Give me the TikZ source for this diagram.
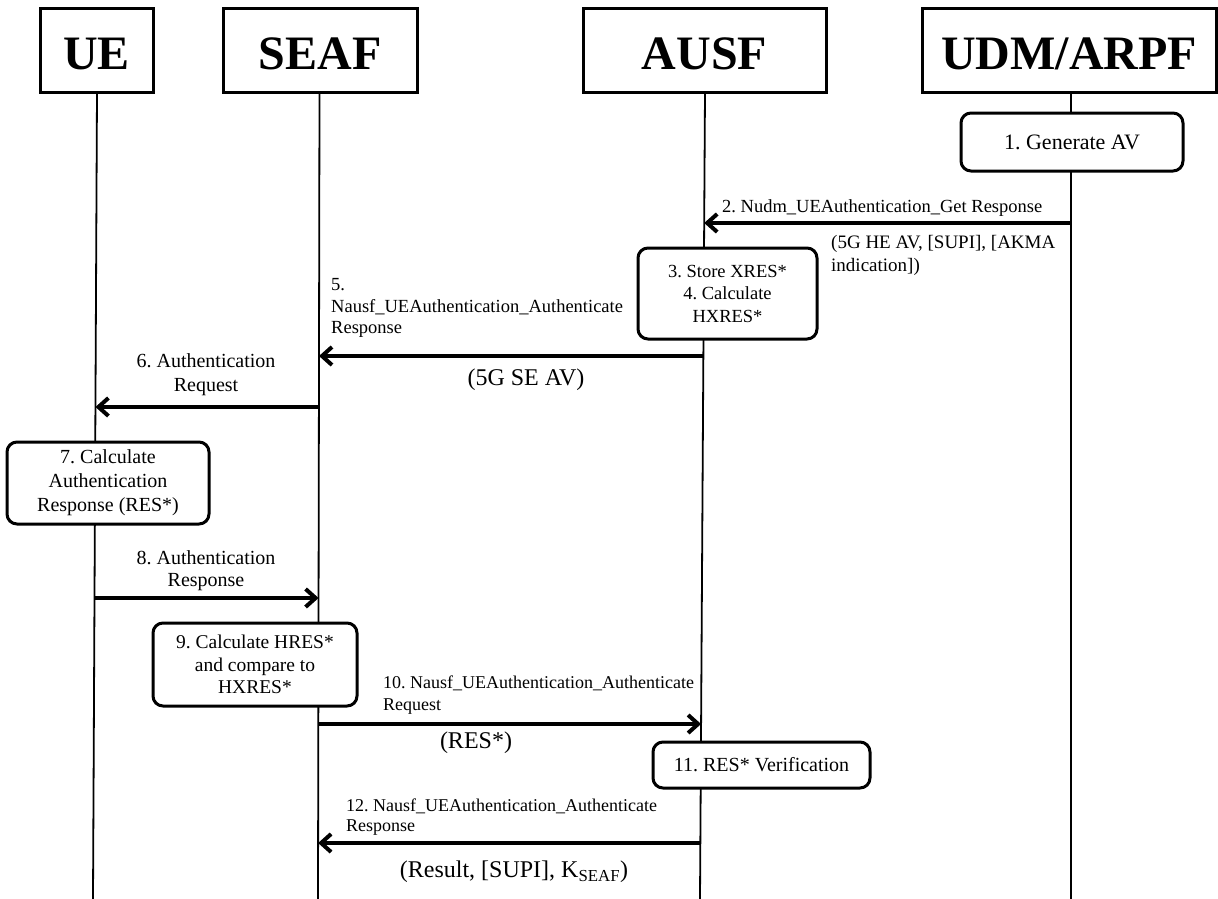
\documentclass[tikz,border=0pt]{standalone}
\usepackage{fontspec}
\setmainfont{Liberation Serif}
\usetikzlibrary{arrows.meta,calc}
\frenchspacing
\begin{document}
\begin{tikzpicture}[x=1pt,y=-1pt,
  hdr/.style={draw, line width=3pt, inner sep=0pt,
    font=\fontsize{48}{52}\selectfont\bfseries,
    text height=39pt, text depth=0pt, minimum height=83pt},
  life/.style={line width=1.8pt},
  msg/.style={line width=4pt, -{Straight Barb[length=10pt,width=18pt]}},
  actbox/.style={draw, line width=3pt, rounded corners=10pt, fill=white,
    align=center, inner sep=0pt},
  lbl/.style={inner sep=0pt},
]
\useasboundingbox (0,0) rectangle (1218,899);

% participants
\node[hdr, minimum width=113pt] (ue)   at (96.5,50.5) {UE};
\node[hdr, minimum width=194pt] (seaf) at (320,50.5)  {SEAF};
\node[hdr, minimum width=243pt] (ausf) at (704.5,50.5){AUSF};
\node[hdr, minimum width=294pt] (udm)  at (1069,50.5) {UDM/ARPF};

% lifelines
\coordinate (ueT)   at (97,92);   \coordinate (ueB)   at (93,899);
\coordinate (seafT) at (319.5,92);\coordinate (seafB) at (318,899);
\coordinate (ausfT) at (705,92);  \coordinate (ausfB) at (700,899);
\coordinate (udmT)  at (1071,92); \coordinate (udmB)  at (1071,899);
\foreach \p in {ue,seaf,ausf,udm}{\draw[life] (\p T) -- (\p B);}

% message end points on the lifelines
\foreach \n/\a/\b/\y in {m2/udm/ausf/223, m5/ausf/seaf/356, m6/seaf/ue/407,
    m8/ue/seaf/598, m10/seaf/ausf/724, m12/ausf/seaf/843}{
  \coordinate (\n s) at ($(\a T)!{(\y-92)/807}!(\a B)$);
  \coordinate (\n e) at ($(\b T)!{(\y-92)/807}!(\b B)$);
}

% messages
\foreach \n in {m2,m5,m6,m8,m10,m12}{\draw[msg] (\n s) -- (\n e);}

% actions
\node[actbox, minimum width=222pt, minimum height=58pt, font=\fontsize{22}{26}\selectfont]
  (b1) at (1072,142) {1. Generate AV};
\node[actbox, minimum width=179pt, minimum height=91pt, font=\fontsize{18.5}{22.5}\selectfont]
  (b34) at (727.5,293.5) {3. Store XRES*\\4. Calculate\\HXRES*};
\node[actbox, minimum width=202pt, minimum height=82pt, font=\fontsize{20}{24}\selectfont]
  (b7) at (108,483) {7. Calculate\\Authentication\\Response (RES*)};
\node[actbox, minimum width=204pt, minimum height=83pt, font=\fontsize{19.5}{22.5}\selectfont]
  (b9) at (255,664.5) {9. Calculate HRES*\\and compare to\\HXRES*};
\node[actbox, minimum width=217pt, minimum height=46pt, font=\fontsize{20}{24}\selectfont]
  (b11) at (761.5,765) {11. RES* Verification};

% message labels
\node[lbl, anchor=west, font=\fontsize{18.5}{22}\selectfont] (l2) at (722,208)
  {2. Nudm\_UEAuthentication\_Get Response};
\node[lbl, anchor=west, align=left, font=\fontsize{19}{23}\selectfont] (p2) at (831,255.5)
  {(5G HE AV, [SUPI], [AKMA\\indication])};
\node[lbl, anchor=west, align=left, font=\fontsize{18.5}{21.5}\selectfont] (l5) at (331,308)
  {5.\\Nausf\_UEAuthentication\_Authenticate\\Response};
\node[lbl, font=\fontsize{24}{28}\selectfont] (p5) at (526,380) {(5G SE AV)};
\node[lbl, align=center, font=\fontsize{20}{24}\selectfont] (l6) at (206,375)
  {6. Authentication\\Request};
\node[lbl, align=center, font=\fontsize{20}{22}\selectfont] (l8) at (206,571)
  {8. Authentication\\Response};
\node[lbl, anchor=west, align=left, font=\fontsize{18}{22}\selectfont] (l10) at (383,695)
  {10. Nausf\_UEAuthentication\_Authenticate\\Request};
\node[lbl, font=\fontsize{24}{28}\selectfont] (p10) at (476,743) {(RES*)};
\node[lbl, anchor=west, align=left, font=\fontsize{18}{20.5}\selectfont] (l12) at (346,817)
  {12. Nausf\_UEAuthentication\_Authenticate\\Response};
\node[lbl, font=\fontsize{24}{28}\selectfont] (p12) at (514,872)
  {(Result, [SUPI], K\textsubscript{SEAF})};
\end{tikzpicture}
\end{document}
